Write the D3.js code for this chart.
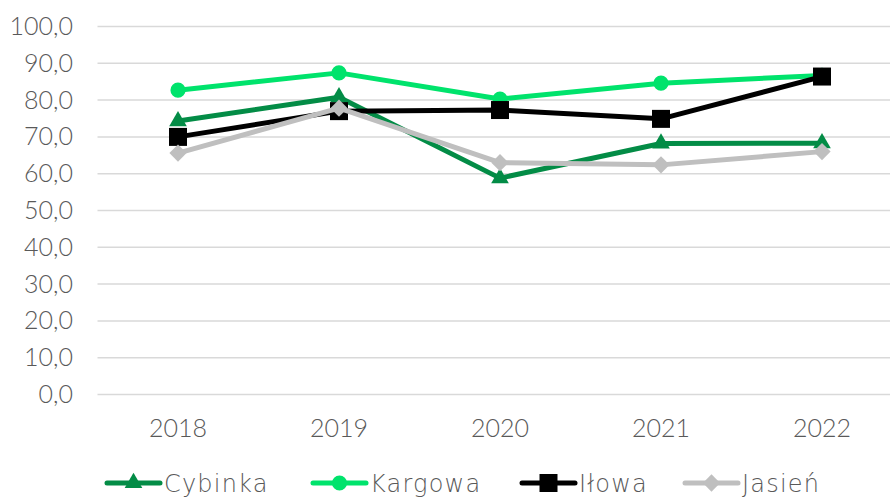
<!DOCTYPE html>
<html>
<head>
<meta charset="utf-8">
<script src="https://cdn.jsdelivr.net/npm/d3@7"></script>
<style>
  html, body { margin: 0; padding: 0; background: #fff; }
  svg { display: block; }
  text { fill: #595959; }
</style>
</head>
<body>
<svg id="chart" width="890" height="498"></svg>
<script>
// Years on the category axis
const years = ["2018", "2019", "2020", "2021", "2022"];
// Values for each municipality
const cybinka = [74.3, 80.8, 58.8, 68.2, 68.3];
const kargowa = [82.7, 87.4, 80.3, 84.6, 86.7];
const ilowa   = [70.0, 77.0, 77.3, 74.9, 86.4];
const jasien  = [65.6, 77.8, 63.0, 62.4, 66.0];
// Value axis ticks
const yTicks = [0, 10, 20, 30, 40, 50, 60, 70, 80, 90, 100];

const seriesNames = ["Cybinka", "Kargowa", "Iłowa", "Jasień"];
const seriesColors = ["#038c46", "#00e36c", "#000000", "#bfbfbf"];
const seriesShapes = [d3.symbolTriangle, d3.symbolCircle, d3.symbolSquare, d3.symbolDiamond2];
const seriesSizes = [135, 180, 324, 190];
const seriesValues = [cybinka, kargowa, ilowa, jasien];

const axisFont = "Lato, 'Noto Sans', sans-serif";
const legendFont = "'DejaVu Sans', sans-serif";

const svg = d3.select("#chart");

const x = d3.scaleBand().domain(years).range([97.5, 902.5]);
const y = d3.scaleLinear().domain([0, 100]).range([394.5, 26.5]);

// Horizontal gridlines
svg.append("g")
  .selectAll("line")
  .data(yTicks)
  .join("line")
  .attr("x1", 97.5).attr("x2", 890)
  .attr("y1", d => y(d)).attr("y2", d => y(d))
  .attr("stroke", "#d9d9d9").attr("stroke-width", 1.5);

// Value axis labels
const fmt = d => d.toFixed(1).replace(".", ",");
const yAxis = svg.append("g")
  .attr("transform", "translate(73,0)")
  .call(d3.axisLeft(y).tickValues(yTicks).tickFormat(fmt).tickSize(0).tickPadding(0));
yAxis.select(".domain").remove();
yAxis.selectAll("text")
  .style("font-size", "25px").style("font-family", axisFont).style("font-weight", 300)
  .attr("fill", "#595959");

// Category axis labels
const xAxis = svg.append("g")
  .attr("transform", "translate(0,437)")
  .call(d3.axisBottom(x).tickSize(0).tickPadding(0));
xAxis.select(".domain").remove();
xAxis.selectAll("text")
  .attr("dy", 0).attr("y", 0)
  .style("font-size", "25px").style("font-family", axisFont).style("font-weight", 300)
  .attr("fill", "#595959");

const cx = d => x(d) + x.bandwidth() / 2;
const line = d3.line().x((d, i) => cx(years[i])).y(d => y(d));

seriesValues.forEach((vals, s) => {
  const g = svg.append("g");
  g.append("path")
    .datum(vals)
    .attr("d", line)
    .attr("fill", "none")
    .attr("stroke", seriesColors[s])
    .attr("stroke-width", 5)
    .attr("stroke-linejoin", "round");
  g.selectAll("path.marker")
    .data(vals)
    .join("path")
    .attr("class", "marker")
    .attr("transform", (d, i) => `translate(${cx(years[i])},${y(d)})`)
    .attr("d", d3.symbol().type(seriesShapes[s]).size(seriesSizes[s]))
    .attr("fill", seriesColors[s]);
});

// Legend
const legendX = [105, 311, 520, 683];
const legend = svg.append("g").attr("transform", "translate(0,483)");
seriesNames.forEach((name, s) => {
  const g = legend.append("g").attr("transform", `translate(${legendX[s]},0)`);
  g.append("line").attr("x1", 2).attr("x2", 55).attr("y1", 0).attr("y2", 0)
    .attr("stroke", seriesColors[s]).attr("stroke-width", 5).attr("stroke-linecap", "round");
  g.append("path").attr("transform", "translate(28.5,0)")
    .attr("d", d3.symbol().type(seriesShapes[s]).size(seriesSizes[s]))
    .attr("fill", seriesColors[s]);
  g.append("text").attr("x", 59).attr("y", 9)
    .style("font-size", "24px").style("font-family", legendFont)
    .style("font-weight", 200)
    .style("letter-spacing", "1.2px")
    .text(name);
});
</script>
</body>
</html>
